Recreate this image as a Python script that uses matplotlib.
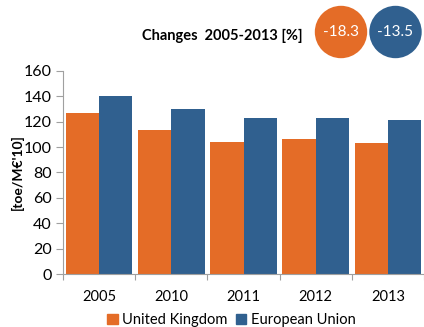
import matplotlib
matplotlib.use("Agg")
import matplotlib.pyplot as plt
from matplotlib.patches import Circle, Patch
import numpy as np

plt.rcParams['font.family'] = ['Lato', 'DejaVu Sans']

years = ["2005", "2010", "2011", "2012", "2013"]
uk = [126.5, 113.2, 103.7, 106.3, 103.3]
eu = [140.1, 129.7, 122.6, 122.6, 121.2]
changes = {"United Kingdom": -18.3, "European Union": -13.5}

orange = "#E46C27"
blue = "#30608F"

fig = plt.figure(figsize=(4.24, 3.27), dpi=100)
ax = fig.add_axes([0.1486, 0.1612, 0.8514, 0.6226])

x = np.arange(len(years))
w = 0.46
ax.bar(x - w / 2, uk, w, color=orange, label="United Kingdom")
ax.bar(x + w / 2, eu, w, color=blue, label="European Union")

ax.set_xlim(-0.5, len(years) - 0.5)
ax.set_ylim(0, 160)
ax.set_yticks(range(0, 161, 20))
ax.set_xticks(x)
ax.set_xticklabels(years)
ax.set_xticks(np.arange(-0.5, len(years), 1.0), minor=True)
ax.tick_params(axis='x', which='major', length=0, pad=11, labelsize=10.5)
ax.tick_params(axis='x', which='minor', length=4, color="#A0A0A0", width=0.8)
ax.tick_params(axis='y', length=5, color="#A0A0A0", width=0.8, labelsize=11.5, pad=3)

for s in ["top", "right"]:
    ax.spines[s].set_visible(False)
for s in ["left", "bottom"]:
    ax.spines[s].set_color("#A0A0A0")
    ax.spines[s].set_linewidth(0.8)

ax.set_ylabel("[toe/M€'10]", fontsize=10, fontweight="bold")
ax.yaxis.set_label_coords(-0.108, 0.5)

handles = [Patch(color=orange, label="United Kingdom"),
           Patch(color=blue, label="European Union")]
fig.legend(handles=handles, loc="center", bbox_to_anchor=(0.546, 0.022),
           ncol=2, frameon=False, fontsize=10.5, handlelength=0.7,
           handleheight=0.7, handletextpad=0.3, columnspacing=0.6)

fig.text(0.7146, 0.89, "Changes  2005-2013 [%]", ha="right", va="center",
         fontsize=10.5, fontweight="bold")

circle_centers = [(3.41, 2.95), (3.955, 2.95)]
for (cx, cy), (name, val), col in zip(circle_centers, changes.items(), [orange, blue]):
    fig.add_artist(Circle((cx, cy), 0.262, transform=fig.dpi_scale_trans,
                          facecolor=col, edgecolor="none"))
    fig.text(cx / 4.24, cy / 3.27, f"{val:.1f}", ha="center", va="center",
             color="white", fontsize=11)

fig.savefig("out.png", dpi=100)
